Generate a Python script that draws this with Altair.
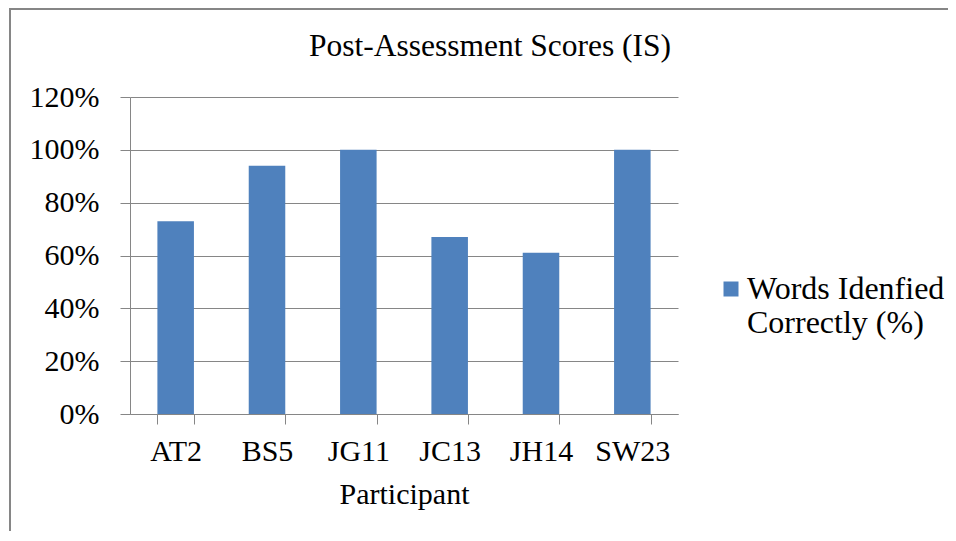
import altair as alt
import pandas as pd

participants = ["AT2", "BS5", "JG11", "JC13", "JH14", "SW23"]
scores = [0.73, 0.94, 1.00, 0.67, 0.61, 1.00]
series_name = "Words Idenfied|Correctly (%)"

df = pd.DataFrame({"Participant": participants, "Score": scores, "series": series_name})

FONT = "Liberation Serif"
GRAY = "#868686"

bars = alt.Chart(df).mark_bar(color="#4F81BD").encode(
    x=alt.X("Participant:N", sort=participants,
            scale=alt.Scale(paddingInner=0.6, paddingOuter=0.3),
            axis=alt.Axis(title="Participant", labelAngle=0, tickBand="extent",
                          tickSize=10, labelPadding=12, titlePadding=13,
                          domainColor=GRAY, tickColor=GRAY, grid=False)),
    y=alt.Y("Score:Q", scale=alt.Scale(domain=[0, 1.2], nice=False),
            axis=alt.Axis(title=None, format=".0%", values=[0, 0.2, 0.4, 0.6, 0.8, 1.0, 1.2],
                          tickSize=10, labelPadding=21, domainColor=GRAY, tickColor=GRAY,
                          gridColor=GRAY, gridOpacity=1)),
    color=alt.Color("series:N", scale=alt.Scale(range=["#4F81BD"]),
                    legend=alt.Legend(title=None, orient="none", legendX=585, legendY=176,
                                      symbolType="square", symbolSize=225, labelLimit=0,
                                      labelOffset=0,
                                      labelExpr="split(datum.label, '|')")),
)

frame_left = alt.Chart(df).mark_rule(color=GRAY, strokeWidth=2).encode(
    x=alt.value(-120), y=alt.value(-89), y2=alt.value(450))
frame_top = alt.Chart(df).mark_rule(color=GRAY, strokeWidth=2).encode(
    x=alt.value(-120), x2=alt.value(830), y=alt.value(-88))

chart = alt.layer(bars, frame_left, frame_top).properties(
    width=548, height=317,
    autosize=alt.AutoSizeParams(type="none"),
    padding={"left": 122, "top": 89, "right": 270, "bottom": 117},
    title=alt.TitleParams("Post-Assessment Scores (IS)", anchor="middle", dx=86, offset=-55,
                          frame="group",
                          font=FONT, fontSize=31.5, fontWeight="normal", color="black"),
).configure_axis(
    labelFont=FONT, labelFontSize=30, labelColor="black",
    titleFont=FONT, titleFontSize=30, titleColor="black", titleFontWeight="normal",
).configure_legend(
    labelFont=FONT, labelFontSize=32, labelColor="black",
).configure_view(stroke=None)

chart.save("out.html", embed_options={"renderer": "svg", "actions": False})
